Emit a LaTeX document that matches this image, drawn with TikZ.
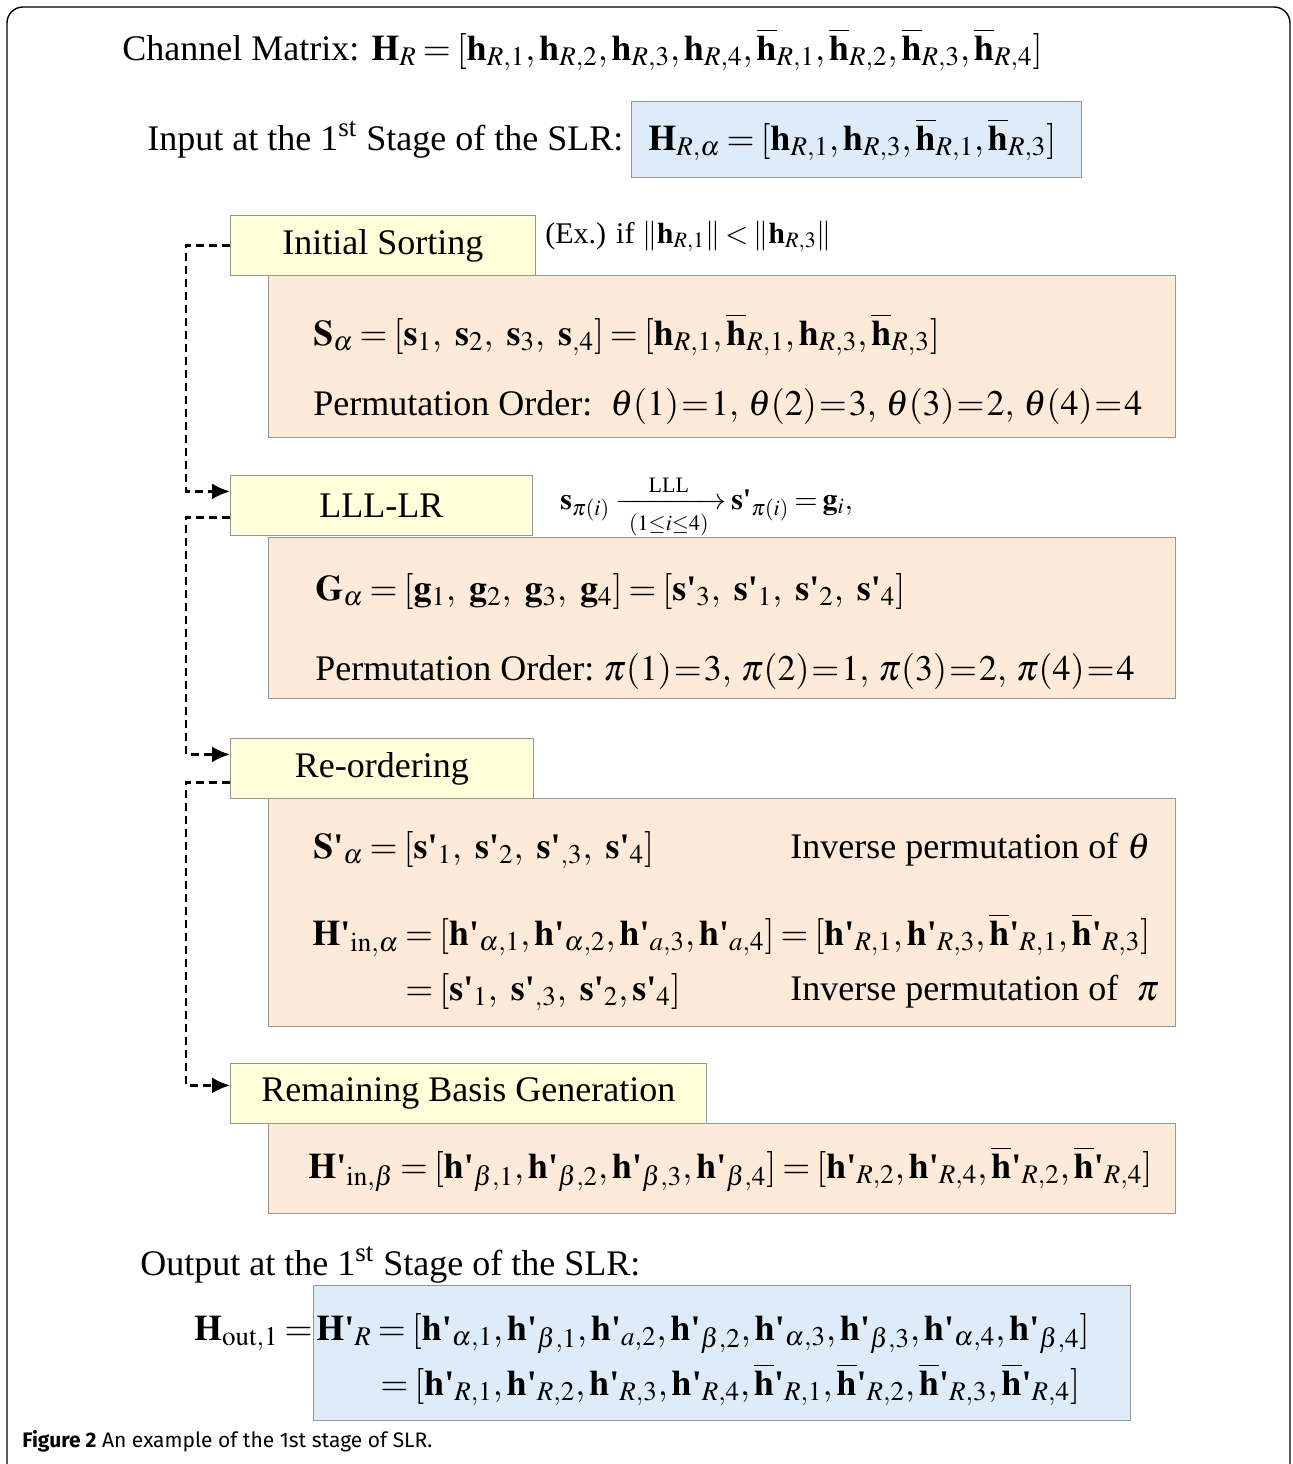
\documentclass[tikz,border=0pt]{standalone}
\usepackage{amsmath}
\usepackage{mathptmx}
\usepackage{fontspec}
\setmainfont{Liberation Serif}
\newfontfamily\capfont{Fira Sans}
\usetikzlibrary{arrows.meta,positioning,calc}
\DeclareMathSizes{18}{18}{13.5}{10}
\DeclareMathSizes{15}{15}{11}{8}
\definecolor{stagefill}{RGB}{255,255,218}
\definecolor{datafill}{RGB}{253,234,216}
\definecolor{infill}{RGB}{222,236,249}
\definecolor{boxgray}{RGB}{150,150,150}
\tikzset{
  stagebox/.style={draw=boxgray, fill=stagefill, anchor=north west, inner sep=0pt,
              minimum height=30pt, font=\fontsize{18}{20}\selectfont},
  databox/.style={draw=boxgray, fill=datafill, anchor=north west, inner sep=0pt},
  inbox/.style={draw=boxgray, fill=infill, anchor=north west, inner sep=0pt},
  txt/.style={anchor=base west, inner sep=0pt, font=\fontsize{18}{20}\selectfont},
  smalltxt/.style={anchor=base west, inner sep=0pt, font=\fontsize{15}{17}\selectfont},
  linkarr/.style={line width=1.2pt, dash pattern=on 4pt off 2.5pt, -{Latex[length=9pt, width=8pt]}},
}
\newcommand{\qt}{\mbox{\bfseries\textquotesingle}}
\newcommand{\hb}{\overline{\mathbf{h}}}
\newcommand{\pv}[2]{\mathbf{#1}\qt_{#2}}
\newcommand{\bpv}[2]{\hb\qt_{#2}}
\newcommand{\tightmath}{\thickmuskip=1mu\relax}
\thickmuskip=3mu plus 2mu
\medmuskip=3mu

\begin{document}
\begin{tikzpicture}[x=0.5pt, y=-0.5pt]
  \useasboundingbox (0,0) rectangle (1293,1464);
  \clip (0,0) rectangle (1293,1464);
  \draw[line width=0.7pt, rounded corners=8pt] (7,7) rectangle (1290,1520);

  % header
  \node[txt] (chan) at (122,60) {Channel Matrix: $\mathbf{H}_R=[\mathbf{h}_{R,1},\mathbf{h}_{R,2},\mathbf{h}_{R,3},\mathbf{h}_{R,4},\hb_{R,1},\hb_{R,2},\hb_{R,3},\hb_{R,4}]$};
  \node[txt] (inlab) at (147,150) {Input at the 1\textsuperscript{st} Stage of the SLR:};
  \node[inbox, minimum width=225pt, minimum height=38pt] (inbx) at (631,101) {};
  \node[txt] (inmath) at (648,150) {$\mathbf{H}_{R,\alpha}=[\mathbf{h}_{R,1},\mathbf{h}_{R,3},\hb_{R,1},\hb_{R,3}]$};

  % initial sorting
  \node[stagebox, minimum width=152.5pt] (sort) at (230,215) {Initial Sorting};
  \node[smalltxt] (ex) at (545,243) {(Ex.) if $\Vert\mathbf{h}_{R,1}\Vert<\Vert\mathbf{h}_{R,3}\Vert$};
  \node[databox, minimum width=453.5pt, minimum height=81pt] (sortd) at (268,275) {};
  \node[txt] (salpha) at (313,345) {$\mathbf{S}_\alpha=[\mathbf{s}_1,\ \mathbf{s}_2,\ \mathbf{s}_3,\ \mathbf{s}_{,4}]=[\mathbf{h}_{R,1},\hb_{R,1},\mathbf{h}_{R,3},\hb_{R,3}]$};
  \node[txt] (theta) at (313,415) {\tightmath Permutation Order:\ \ $\theta(1)=1{,}\ \theta(2)=3{,}\ \theta(3)=2{,}\ \theta(4)=4$};

  % LLL-LR
  \node[stagebox, minimum width=151pt] (lll) at (230,475) {LLL-LR};
  \node[smalltxt] (lllmap) at (560,509) {$\mathbf{s}_{\pi(i)}\xrightarrow[\;\;(1\leq i\leq 4)\;\;]{\text{LLL}}\pv{s}{\pi(i)}=\mathbf{g}_i,$};
  \node[databox, minimum width=453.5pt, minimum height=80.5pt] (llld) at (268,537) {};
  \node[txt] (galpha) at (315,600) {$\mathbf{G}_\alpha=[\mathbf{g}_1,\ \mathbf{g}_2,\ \mathbf{g}_3,\ \mathbf{g}_4]=[\pv{s}{3},\ \pv{s}{1},\ \pv{s}{2},\ \pv{s}{4}]$};
  \node[txt] (piord) at (315,680) {\tightmath Permutation Order:\ $\pi(1)=3{,}\ \pi(2)=1{,}\ \pi(3)=2{,}\ \pi(4)=4$};

  % re-ordering
  \node[stagebox, minimum width=151.5pt] (reord) at (230,738) {Re-ordering};
  \node[databox, minimum width=453.5pt, minimum height=114pt] (reordd) at (268,798) {};
  \node[txt] (spalpha) at (313,858) {$\pv{S}{\alpha}=[\pv{s}{1},\ \pv{s}{2},\ \pv{s}{,3},\ \pv{s}{4}]$};
  \node[txt] (invtheta) at (790,858) {Inverse permutation of $\theta$};
  \node[txt] (hinalpha) at (312,945) {$\pv{H}{\mathrm{in},\alpha}=[\pv{h}{\alpha,1},\pv{h}{\alpha,2},\pv{h}{a,3},\pv{h}{a,4}]=[\pv{h}{R,1},\pv{h}{R,3},\bpv{h}{R,1},\bpv{h}{R,3}]$};
  \node[txt] (seq) at (405,1000) {$=[\pv{s}{1},\ \pv{s}{,3},\ \pv{s}{2},\pv{s}{4}]$};
  \node[txt] (invpi) at (790,1000) {Inverse permutation of\ \ $\pi$};

  % remaining basis generation
  \node[stagebox, minimum width=238pt] (remain) at (230,1063) {Remaining Basis Generation};
  \node[databox, minimum width=453.5pt, minimum height=45pt] (remaind) at (268,1123) {};
  \node[txt] (hinbeta) at (308,1178) {$\pv{H}{\mathrm{in},\beta}=[\pv{h}{\beta,1},\pv{h}{\beta,2},\pv{h}{\beta,3},\pv{h}{\beta,4}]=[\pv{h}{R,2},\pv{h}{R,4},\bpv{h}{R,2},\bpv{h}{R,4}]$};

  % output
  \node[txt] (outlab) at (140,1275) {Output at the 1\textsuperscript{st} Stage of the SLR:};
  \node[inbox, minimum width=408.5pt, minimum height=67.5pt] (outbx) at (313,1285) {};
  \node[txt, anchor=base east] (hout) at (313,1340) {$\mathbf{H}_{\mathrm{out},1}=$};
  \node[txt] (outmath) at (316,1340) {$\pv{H}{R}=[\pv{h}{\alpha,1},\pv{h}{\beta,1},\pv{h}{a,2},\pv{h}{\beta,2},\pv{h}{\alpha,3},\pv{h}{\beta,3},\pv{h}{\alpha,4},\pv{h}{\beta,4}]$};
  \node[txt] (outmath2) at (380,1395) {$=[\pv{h}{R,1},\pv{h}{R,2},\pv{h}{R,3},\pv{h}{R,4},\bpv{h}{R,1},\bpv{h}{R,2},\bpv{h}{R,3},\bpv{h}{R,4}]$};

  % dashed links
  \draw[linkarr] (sort.west) -- ++(-22pt,0) |- ([yshift=7pt]lll.west);
  \draw[linkarr] ([yshift=-6pt]lll.west) -- ++(-22pt,0) |- ([yshift=7pt]reord.west);
  \draw[linkarr] ([yshift=-7pt]reord.west) -- ++(-22pt,0) |- ([yshift=4pt]remain.west);

  % caption
  \node[anchor=base west, inner sep=0pt, font=\capfont\fontsize{10.5}{12}\selectfont] (cap) at (22,1447) {\textbf{Figure 2} An example of the 1st stage of SLR.};
\end{tikzpicture}
\end{document}
